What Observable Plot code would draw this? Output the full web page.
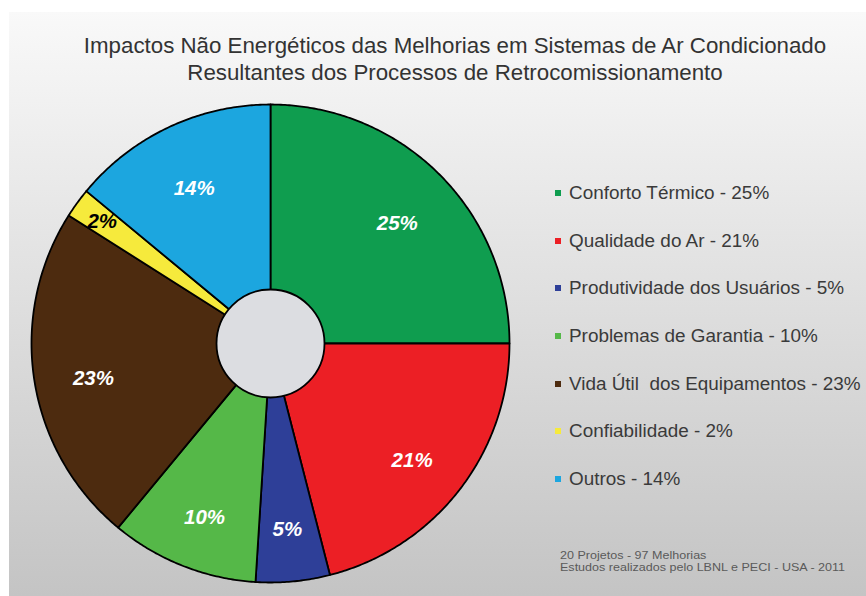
<!DOCTYPE html>
<html>
<head>
<meta charset="utf-8">
<script src="https://cdn.jsdelivr.net/npm/d3@7"></script>
<script src="https://cdn.jsdelivr.net/npm/@observablehq/plot@0.6"></script>
<style>
  html, body { margin: 0; padding: 0; width: 866px; height: 596px; overflow: hidden; background: #ffffff; }
  #slide { position: absolute; left: 9px; top: 12px; right: 0; bottom: 0;
    background: linear-gradient(to bottom, #f9f9f9 0%, #c4c4c4 100%); }
  #title { position: absolute; left: 55px; top: 32px; width: 800px; text-align: center;
    font-family: "Liberation Sans", Arial, sans-serif; font-size: 22.3px; line-height: 27px; color: #333; }
  #pie { position: absolute; left: 20px; top: 93px; }
  #legend { position: absolute; left: 555px; top: 169px; width: 420px; }
  #legend .lg-swatches { font-family: "Liberation Sans", Arial, sans-serif; font-size: 18.9px; color: #3a3a3a; margin: 0; }
  #legend .lg-swatch { height: 47.7px !important; padding-bottom: 0 !important; }
  #legend .lg-swatch > svg { margin-right: 8px !important; }
  #legend .lg-swatch-label { overflow: visible !important; text-overflow: clip !important; white-space: pre !important; }
  #note { position: absolute; left: 560px; top: 549px; font-family: "Liberation Sans", Arial, sans-serif;
    font-size: 11px; line-height: 12px; color: #5a5a5a; transform: scaleX(1.14); transform-origin: left top; white-space: nowrap; }
</style>
</head>
<body>
<div id="slide"></div>
<div id="title">Impactos Não Energéticos das Melhorias em Sistemas de Ar Condicionado<br>Resultantes dos Processos de Retrocomissionamento</div>
<div id="pie"></div>
<div id="legend"></div>
<div id="note">20 Projetos - 97 Melhorias<br>Estudos realizados pelo LBNL e PECI - USA - 2011</div>
<script>
const categories = ["Conforto Térmico", "Qualidade do Ar", "Produtividade dos Usuários", "Problemas de Garantia", "Vida Útil  dos Equipamentos", "Confiabilidade", "Outros"];
const values = [25, 21, 5, 10, 23, 2, 14];
const colors = ["#0f9d4f", "#ec1f25", "#2e3f98", "#55b848", "#4d2b0f", "#f6ea3c", "#1ca6df"];
const labelColors = ["white", "white", "white", "white", "white", "black", "white"];
const legendLabels = categories.map((c, i) => `${c} - ${values[i]}%`);

const R = 239, hole = 54;
const total = d3.sum(values);
// build wedge outlines from the values
const wedgePts = [];
const labels = [];
let cum = 0;
categories.forEach((c, i) => {
  const a0 = cum / total * 2 * Math.PI;
  cum += values[i];
  const a1 = cum / total * 2 * Math.PI;
  wedgePts.push({cat: c, x: 0, y: 0});
  const n = Math.max(2, Math.ceil((a1 - a0) / (Math.PI / 360)));
  for (let k = 0; k <= n; k++) {
    const a = a0 + (a1 - a0) * k / n;
    wedgePts.push({cat: c, x: R * Math.sin(a), y: R * Math.cos(a)});
  }
  wedgePts.push({cat: c, x: 0, y: 0});
  const am = (a0 + a1) / 2;
  const small = values[i] < 4;
  const lr = small ? 0.87 * R : 0.75 * R;
  labels.push({cat: c, text: values[i] + "%", x: lr * Math.sin(am), y: lr * Math.cos(am) + (small ? 7 : 0), fill: labelColors[i]});
});

const pie = Plot.plot({
  width: 500, height: 500, margin: 0,
  x: {domain: [-250, 250], axis: null},
  y: {domain: [-250, 250], axis: null},
  color: {type: "ordinal", domain: categories, range: colors},
  marks: [
    Plot.line(wedgePts, {x: "x", y: "y", z: "cat", fill: "cat", stroke: "black", strokeWidth: 1.8, strokeLinejoin: "round"}),
    Plot.dot([0], {x: () => 0, y: () => 0, r: hole, fill: "#dcdde1", stroke: "black", strokeWidth: 1.8}),
    Plot.text(labels, {x: "x", y: "y", dy: 7, text: "text", fill: d => d.fill, fontSize: 20.5, fontWeight: "bold", fontStyle: "italic", fontFamily: "Liberation Sans, Arial, sans-serif"})
  ]
});
pie.style.background = "transparent";
document.getElementById("pie").appendChild(pie);

const legend = Plot.legend({
  color: {type: "ordinal", domain: legendLabels, range: colors},
  legend: "swatches", columns: 1, swatchSize: 6, className: "lg"
});
document.getElementById("legend").appendChild(legend);
</script>
</body>
</html>
